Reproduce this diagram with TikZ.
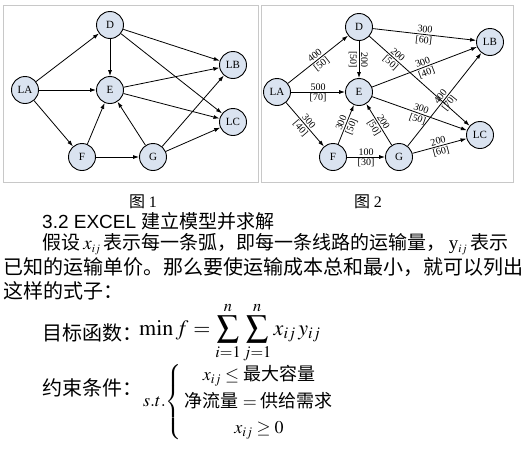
\documentclass[tikz,border=0pt]{standalone}
\usepackage{amsmath,amssymb}
\usepackage{mathptmx}
\usepackage{fontspec}
\setmainfont{Liberation Serif}
\setsansfont{Liberation Sans}
\newfontfamily\cjk{Noto Sans CJK SC}
\usetikzlibrary{arrows.meta,positioning}
\definecolor{cityfill}{HTML}{DAE3F0}
\definecolor{framegray}{HTML}{C8C8C8}
\newcommand{\zh}[1]{\text{\cjk #1}}

\begin{document}
\begin{tikzpicture}[
    x=1pt, y=-1pt,
    city/.style={circle, draw, line width=0.9pt, fill=cityfill, minimum size=27pt, inner sep=0pt, font=\fontsize{11}{12}\selectfont},
    arc/.style={-{Latex[length=6pt,width=4pt]}, line width=0.8pt},
    cost/.style={sloped, inner sep=1.5pt, font=\fontsize{10}{11}\selectfont},
    frame/.style={draw=framegray, line width=1pt},
    body/.style={anchor=west, inner sep=0pt, font=\cjk\fontsize{20}{24}\selectfont}
]
\useasboundingbox (0,0) rectangle (525,453);

% figure 1
\draw[frame] (3,5) rectangle (258,182);
\node[city] (LA1) at (25,90) {LA};
\node[city] (D1) at (110,25) {D};
\node[city] (E1) at (110,90) {E};
\node[city] (F1) at (82,157) {F};
\node[city] (G1) at (153,157) {G};
\node[city] (LB1) at (233,65) {LB};
\node[city] (LC1) at (233,122) {LC};

\foreach \src/\dst in {LA/D,LA/E,LA/F,D/E,D/LB,D/LC,E/LB,E/LC,F/E,F/G,G/E,G/LB,G/LC}
  \draw[arc] (\src1) -- (\dst1);

% figure 2
\draw[frame] (261,5) rectangle (513,182);
\node[city] (LA2) at (277,92) {LA};
\node[city] (D2) at (359,27) {D};
\node[city] (E2) at (359,92) {E};
\node[city] (F2) at (333,157) {F};
\node[city] (G2) at (399,157) {G};
\node[city] (LB2) at (490,42) {LB};
\node[city] (LC2) at (480,135) {LC};

\foreach \src/\dst/\hi/\lo/\p in {LA/D/400/50/0.5, LA/E/500/70/0.5, LA/F/300/40/0.5,
    D/E/200/50/0.5, D/LB/300/60/0.5, D/LC/200/50/0.25, E/LB/300/40/0.5, E/LC/300/50/0.5,
    F/E/300/50/0.5, F/G/100/30/0.5, G/E/200/50/0.5, G/LB/400/70/0.5, G/LC/200/60/0.5}
  \draw[arc] (\src2) -- node[cost, above, pos=\p] {\hi} node[cost, below, pos=\p] {[\lo]} (\dst2);

% captions and text
\node[font=\cjk\fontsize{16}{18}\selectfont] (cap1) at (143,202) {图 {\rmfamily 1}};
\node[font=\cjk\fontsize{16}{18}\selectfont] (cap2) at (368,202) {图 {\rmfamily 2}};
\node[anchor=west, inner sep=0pt, font=\sffamily\fontsize{19}{20}\selectfont] (head) at (42,221) {3.2 EXCEL {\cjk 建立模型并求解}};
\node[body, font=\cjk\fontsize{19}{24}\selectfont] (line1) at (42,244)
  {假设\,$x_{\scriptscriptstyle ij}$\,表示每一条弧，即每一条线路的运输量，\,{\rmfamily y}$_{\scriptscriptstyle ij}$\,表示};
\node[body] (line2) at (3,267) {已知的运输单价。那么要使运输成本总和最小，就可以列出};
\node[body] (line3) at (3,291) {这样的式子：};
\node[body] (goal) at (42,333) {目标函数：};
\node[anchor=west, inner sep=0pt, font=\fontsize{22}{26}\selectfont] (goalf) at (139,333)
  {$\displaystyle \min f=\sum_{i=1}^{n}\sum_{j=1}^{n}x_{ij}\,y_{ij}$};
\node[body] (cons) at (42,388) {约束条件：};
\node[anchor=west, inner sep=0pt, font=\fontsize{18}{22}\selectfont] (consf) at (143,402)
  {\renewcommand{\arraystretch}{1.2}$s.t.\!\left\{\!\begin{array}{c} x_{ij}\le\zh{最大容量}\\ \zh{净流量}=\zh{供给需求}\\ x_{ij}\ge 0\end{array}\right.$};
\end{tikzpicture}
\end{document}
